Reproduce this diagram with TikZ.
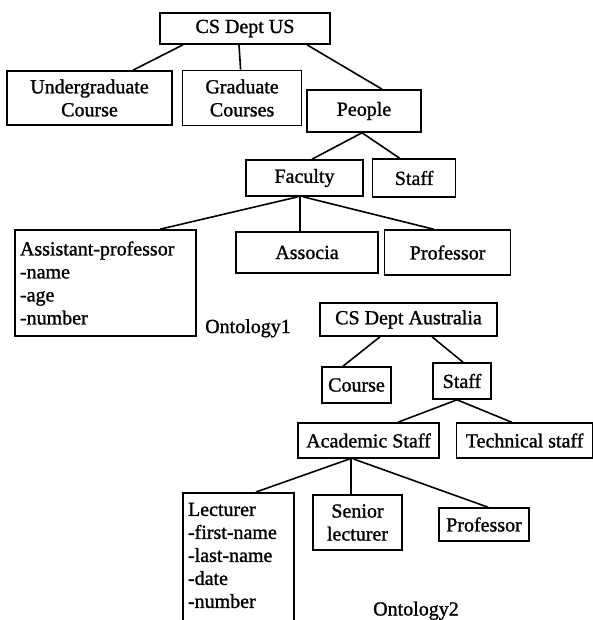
\documentclass[tikz,border=0pt]{standalone}
\usepackage{fontspec}
\setmainfont{Liberation Serif}[FakeBold=1.2]
\usetikzlibrary{positioning}

\begin{document}
\begin{tikzpicture}[
  x=1pt, y=-1pt,
  box/.style={draw, line width=1.6pt, inner sep=0pt, align=center,
    font=\fontsize{20}{23}\selectfont},
  listbox/.style={box, align=left, inner xsep=5pt, inner ysep=6pt},
  link/.style={line width=1.6pt},
  caption/.style={font=\fontsize{20}{23}\selectfont, inner sep=0pt}
]
\path[use as bounding box, clip] (0,0) rectangle (593,620);

\node[box, minimum width=170pt, minimum height=31pt] (usdept) at (245,28.5) {CS Dept US};
\node[box, minimum width=165pt, minimum height=54pt] (ug) at (89.5,98) {Undergraduate\\Course};
\node[box, minimum width=119pt, minimum height=55pt, right=9pt of ug] (grad) {Graduate\\Courses};
\node[box, minimum width=114pt, minimum height=42pt] (people) at (364,111) {People};
\node[box, minimum width=117pt, minimum height=36pt] (faculty) at (304.5,178) {Faculty};
\node[box, minimum width=83pt, minimum height=38pt, right=8pt of faculty] (ustaff) {Staff};
\node[listbox, text width=171pt, minimum height=106pt] (asst) at (105.5,283)
  {Assistant-professor\\-name\\-age\\-number};
\node[box, minimum width=142pt, minimum height=41pt] (assoc) at (307,252.5) {Associa};
\node[box, minimum width=126pt, minimum height=45pt, right=5pt of assoc] (uprof) {Professor};
\node[caption, anchor=base west] (onto1) at (205,333) {Ontology1};

\draw[link] ([xshift=-62pt]usdept.south) -- ([xshift=43.5pt]ug.north);
\draw[link] ([xshift=-6pt]usdept.south) -- ([xshift=-1.5pt]grad.north);
\draw[link] ([xshift=62pt]usdept.south) -- ([xshift=18pt]people.north);
\draw[link] ([xshift=-2pt]people.south) -- ([xshift=7.5pt]faculty.north);
\draw[link] ([xshift=-2pt]people.south) -- ([xshift=-14.5pt]ustaff.north);
\draw[link] ([xshift=-6.5pt]faculty.south) -- ([xshift=54.5pt]asst.north);
\draw[link] ([xshift=-4.5pt]faculty.south) -- ([xshift=-7pt]assoc.north);
\draw[link] ([xshift=-1.5pt]faculty.south) -- ([xshift=-14pt]uprof.north);

\node[box, minimum width=177pt, minimum height=33pt] (audept) at (408.5,319.5) {CS Dept Australia};
\node[box, minimum width=69pt, minimum height=36pt] (course) at (356.5,385) {Course};
\node[box, minimum width=58pt, minimum height=36pt] (astaff) at (462,381) {Staff};
\node[box, minimum width=141pt, minimum height=35pt] (acad) at (368.5,440.5) {Academic Staff};
\node[box, minimum width=136pt, minimum height=35pt, right=16pt of acad] (tech) {Technical staff};
\node[listbox, inner ysep=10pt, text width=101pt, anchor=north] (lect) at (238.5,492)
  {Lecturer\\-first-name\\-last-name\\-date\\-number\rule[-30pt]{0pt}{0pt}};
\node[box, minimum width=89pt, minimum height=55pt] (senior) at (357.5,522.5) {Senior\\lecturer};
\node[box, minimum width=90pt, minimum height=33pt] (aprof) at (484,524.5) {Professor};
\node[caption, anchor=base west] (onto2) at (373,615.5) {Ontology2};

\draw[link] ([xshift=-28.5pt]audept.south) -- ([xshift=-13.5pt]course.north);
\draw[link] ([xshift=23.5pt]audept.south) -- ([xshift=1pt]astaff.north);
\draw[link] ([xshift=-5pt]astaff.south) -- ([xshift=29.5pt]acad.north);
\draw[link] ([xshift=-5pt]astaff.south) -- ([xshift=-13pt]tech.north);
\draw[link] ([xshift=-18.5pt]acad.south) -- ([xshift=17.5pt]lect.north);
\draw[link] ([xshift=-17.5pt]acad.south) -- ([xshift=-6.5pt]senior.north);
\draw[link] ([xshift=-15.5pt]acad.south) -- ([xshift=4pt]aprof.north);
\end{tikzpicture}
\end{document}
